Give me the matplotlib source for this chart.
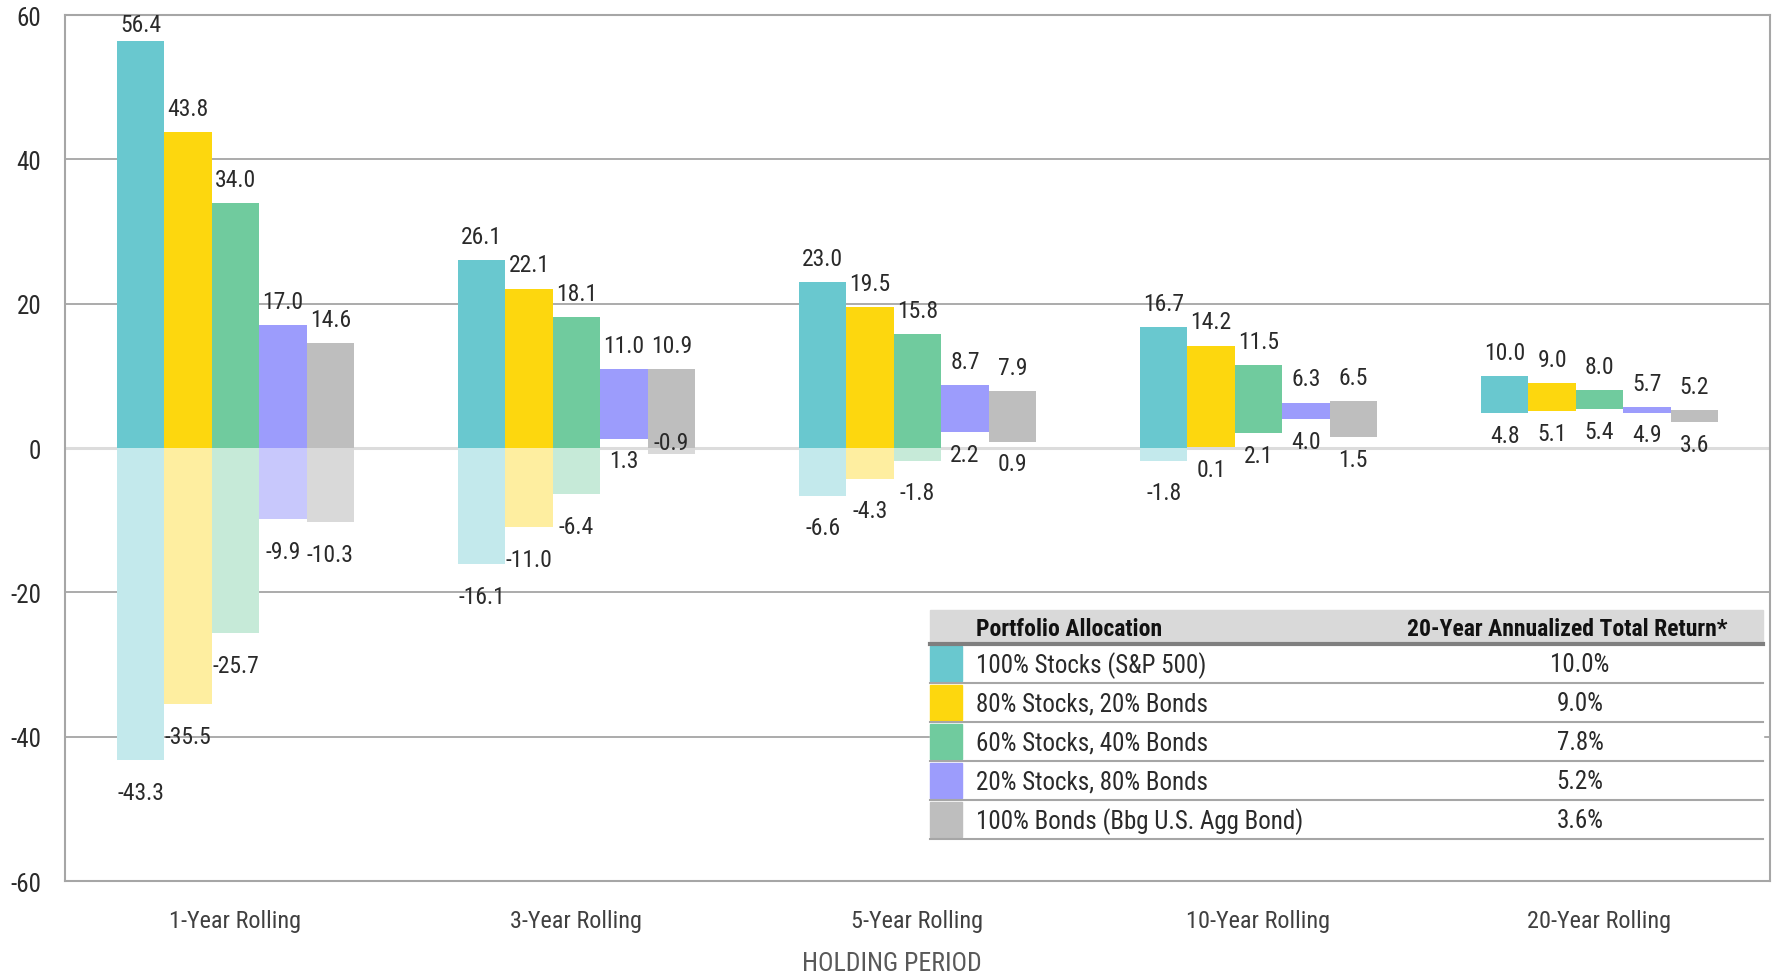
import numpy as np
import matplotlib.pyplot as plt
from matplotlib.patches import Rectangle

plt.rcParams['font.family'] = ['Roboto Condensed', 'IBM Plex Sans Condensed', 'DejaVu Sans']

periods = ['1-Year Rolling', '3-Year Rolling', '5-Year Rolling', '10-Year Rolling', '20-Year Rolling']
allocations = ['100% Stocks (S&P 500)', '80% Stocks, 20% Bonds', '60% Stocks, 40% Bonds',
               '20% Stocks, 80% Bonds', '100% Bonds (Bbg U.S. Agg Bond)']
annualized = ['10.0%', '9.0%', '7.8%', '5.2%', '3.6%']

# best / worst rolling returns, one row per allocation, one column per holding period
best = np.array([
    [56.4, 26.1, 23.0, 16.7, 10.0],
    [43.8, 22.1, 19.5, 14.2, 9.0],
    [34.0, 18.1, 15.8, 11.5, 8.0],
    [17.0, 11.0, 8.7, 6.3, 5.7],
    [14.6, 10.9, 7.9, 6.5, 5.2],
])
worst = np.array([
    [-43.3, -16.1, -6.6, -1.8, 4.8],
    [-35.5, -11.0, -4.3, 0.1, 5.1],
    [-25.7, -6.4, -1.8, 2.1, 5.4],
    [-9.9, 1.3, 2.2, 4.0, 4.9],
    [-10.3, -0.9, 0.9, 1.5, 3.6],
])

dark = ['#69C8CF', '#FDD70E', '#70CB9E', '#9C9CFC', '#BEBEBE']
light = ['#C3E9EC', '#FEEEA0', '#C6EAD8', '#C8C8FC', '#D9D9D9']

txt = '#2a2a2a'
fig = plt.figure(figsize=(17.75, 9.79), dpi=100)
ax = fig.add_axes([65 / 1775, 1 - 882 / 979, 1705 / 1775, 866 / 979])

x = np.arange(len(periods))
w = 0.139
for i in range(len(allocations)):
    xs = x + (i - 2) * w
    hi = best[i]
    lo = worst[i]
    # solid part: above zero (or the whole range when it never dips below zero)
    base = np.maximum(lo, 0)
    ax.bar(xs, hi - base, w, bottom=base, color=dark[i], zorder=3)
    neg = np.minimum(lo, 0)
    ax.bar(xs, neg, w, bottom=0, color=light[i], zorder=3)
    for xi, h, l in zip(xs, hi, lo):
        top_off = 17 if h < 55 else 12
        ax.annotate(f'{h:.1f}', (xi, h), xytext=(0, top_off), textcoords='offset points',
                    ha='center', va='center', fontsize=17, color=txt, zorder=5)
        if -1 < l < 0:
            # sliver below zero: label sits on the zero line
            anchor, off = 0, 4
        elif l < 0:
            anchor, off = l, -23
        else:
            anchor, off = l, -16
        ax.annotate(f'{l:.1f}', (xi, anchor), xytext=(0, off), textcoords='offset points',
                    ha='center', va='center', fontsize=17, color=txt, zorder=5)

ax.set_xlim(-0.5, 4.5)
ax.set_ylim(-60, 60)
ax.set_yticks(np.arange(-60, 61, 20))
ax.set_yticklabels([str(v) for v in range(-60, 61, 20)], fontsize=18, color=txt)
ax.set_xticks(x)
ax.set_xticklabels(periods, fontsize=17.5, color='#404040')
ax.tick_params(length=0)
ax.tick_params(axis='x', pad=20)
ax.tick_params(axis='y', pad=17)
for v in (-40, -20, 20, 40):
    ax.axhline(v, color='#ABABAB', lw=1.4, zorder=1)
ax.axhline(0, color='#DCDCDC', lw=2.2, zorder=1)
for s in ax.spines.values():
    s.set_color('#A6A6A6')
    s.set_linewidth(1.5)

fig.text(892 / 1775, 1 - 964 / 979, 'HOLDING PERIOD', ha='center', va='center',
         fontsize=18.5, color='#595959')

# allocation table, laid out in pixel units
tab = fig.add_axes([0, 0, 1, 1], zorder=10)
tab.set_xlim(0, 1775)
tab.set_ylim(979, 0)
tab.axis('off')
tx0, tx1 = 930, 1763
head_top, head_bot, row_h = 611, 645, 39
tab.add_patch(Rectangle((tx0, head_top), tx1 - tx0, head_bot - head_top, color='#D9D9D9'))
tab.add_patch(Rectangle((tx0, head_bot), tx1 - tx0, row_h * 5, color='white'))
tab.text(976, (head_top + head_bot) / 2 + 2, 'Portfolio Allocation', fontsize=17,
         fontweight='bold', va='center', color='#111111')
tab.text(1567, (head_top + head_bot) / 2 + 2, '20-Year Annualized Total Return*', fontsize=17,
         fontweight='bold', va='center', ha='center', color='#111111')
tab.plot([tx0, tx1], [head_bot, head_bot], color='#7F7F7F', lw=3)
for i, (name, r) in enumerate(zip(allocations, annualized)):
    top = head_bot + i * row_h
    tab.add_patch(Rectangle((tx0, top + 2), 32, row_h - 4, color=dark[i]))
    tab.text(976, top + row_h / 2 + 1, name, fontsize=18, va='center', color=txt)
    tab.text(1580, top + row_h / 2 + 1, r, fontsize=18, va='center', ha='center', color=txt)
    tab.plot([tx0, tx1], [top + row_h, top + row_h], color='#A6A6A6', lw=1.5)

fig.savefig('out.png', dpi=100)
